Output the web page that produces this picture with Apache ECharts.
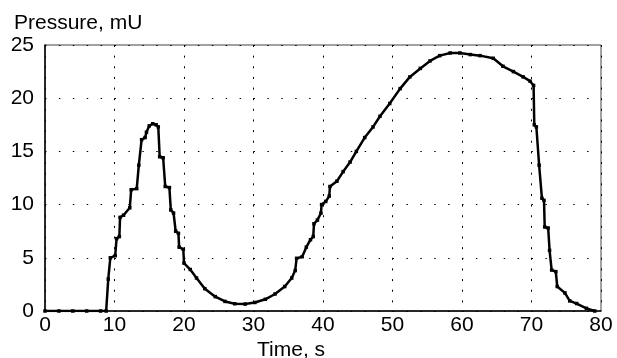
<!DOCTYPE html>
<html>
<head>
<meta charset="utf-8">
<script src="https://cdn.jsdelivr.net/npm/echarts@6/dist/echarts.min.js"></script>
<style>
  html, body { margin: 0; padding: 0; background: #fff; }
  #chart { width: 617px; height: 358px; }
</style>
</head>
<body>
<div id="chart"></div>
<script>
var chart = echarts.init(document.getElementById('chart'));

// time, s
var times = [0, 2, 4, 6, 8, 8.8, 9.1, 9.4, 10.1, 10.3, 10.7, 10.8, 11.3, 12.2, 12.4, 13.2,
    13.5, 13.9, 14.4, 14.6, 15.0, 15.5, 16.0, 16.3, 16.5, 17.0, 17.3, 17.9, 18.1, 18.5,
    18.8, 19.2, 19.3, 19.9, 20.0, 20.9, 21.8, 23.0, 24.5, 25.9, 27.3, 28.8, 30.2, 31.7,
    33.1, 34.5, 35.5, 36.0, 36.2, 37.0, 37.6, 38.2, 38.6, 38.7, 39.2, 39.7, 39.8, 40.4,
    40.9, 41.0, 42.0, 42.9, 43.9, 44.8, 46.0, 47.2, 48.2, 49.6, 51.1, 52.5, 54.0, 55.4,
    56.8, 58.3, 59.7, 61.2, 62.6, 64.5, 65.9, 67.4, 68.8, 69.8, 70.3, 70.4, 70.7, 71.1,
    71.5, 71.8, 71.9, 72.4, 72.6, 72.9, 73.5, 73.7, 74.8, 75.5, 76.5, 77.9, 79.1];
// pressure, mU
var pressure = [0, 0, 0, 0, 0, 0, 3.0, 5.0, 5.2, 6.8, 7.0, 8.8, 9.0, 9.7, 11.4, 11.5,
    13.7, 16.1, 16.3, 16.8, 17.4, 17.6, 17.5, 17.3, 14.5, 14.4, 11.7, 11.6, 9.5, 9.2,
    7.5, 7.3, 6.0, 5.8, 4.5, 3.9, 3.1, 2.1, 1.35, 0.9, 0.68, 0.65, 0.8, 1.1,
    1.6, 2.3, 3.1, 3.8, 4.95, 5.1, 6.0, 6.7, 7.0, 8.2, 8.55, 9.2, 10.0, 10.3,
    10.8, 11.7, 12.2, 13.1, 14.0, 15.0, 16.3, 17.3, 18.3, 19.5, 20.9, 22.0, 22.8, 23.5,
    24.0, 24.25, 24.25, 24.1, 24.0, 23.75, 23.0, 22.5, 22.0, 21.6, 21.2, 17.5, 17.3, 13.7,
    10.6, 10.4, 7.9, 7.8, 5.7, 3.85, 3.7, 2.3, 1.7, 0.95, 0.7, 0.25, 0];

var font = 'Liberation Sans, Arial, sans-serif';

option = {
    backgroundColor: '#fff',
    animation: false,
    title: [{
        text: 'Pressure, mU',
        left: 9,
        top: 8,
        textStyle: { fontFamily: font, fontSize: 21, fontWeight: 'normal', color: '#000' }
    }, {
        text: 'Time, s',
        left: 252,
        top: 335,
        textStyle: { fontFamily: font, fontSize: 21, fontWeight: 'normal', color: '#000' }
    }],
    grid: {
        left: 45,
        right: 16,
        top: 45,
        bottom: 47,
        show: true,
        borderColor: '#444',
        borderWidth: 1
    },
    xAxis: {
        type: 'value',
        min: 0,
        max: 80,
        interval: 10,
        axisLine: { onZero: false, lineStyle: { color: '#000', width: 1.5 } },
        axisTick: { show: false },
        axisLabel: { color: '#000', fontFamily: font, fontSize: 21, margin: 4 },
        splitLine: {
            show: true,
            lineStyle: { color: '#000', width: 1, type: [2, 8.64] }
        }
    },
    yAxis: {
        type: 'value',
        min: 0,
        max: 25,
        interval: 5,
        axisLine: { show: true, lineStyle: { color: '#000', width: 1.5 } },
        axisTick: { show: false },
        axisLabel: { color: '#000', fontFamily: font, fontSize: 21, margin: 11 },
        splitLine: {
            show: true,
            lineStyle: { color: '#000', width: 1, type: [1.5, 12.4] }
        }
    },
    series: [{
        type: 'line',
        data: times.map(function (t, i) { return [t, pressure[i]]; }),
        symbol: 'rect',
        symbolSize: 3.5,
        itemStyle: { color: '#000' },
        lineStyle: { color: '#000', width: 2.5 }
    }]
};
chart.setOption(option);
</script>
</body>
</html>
